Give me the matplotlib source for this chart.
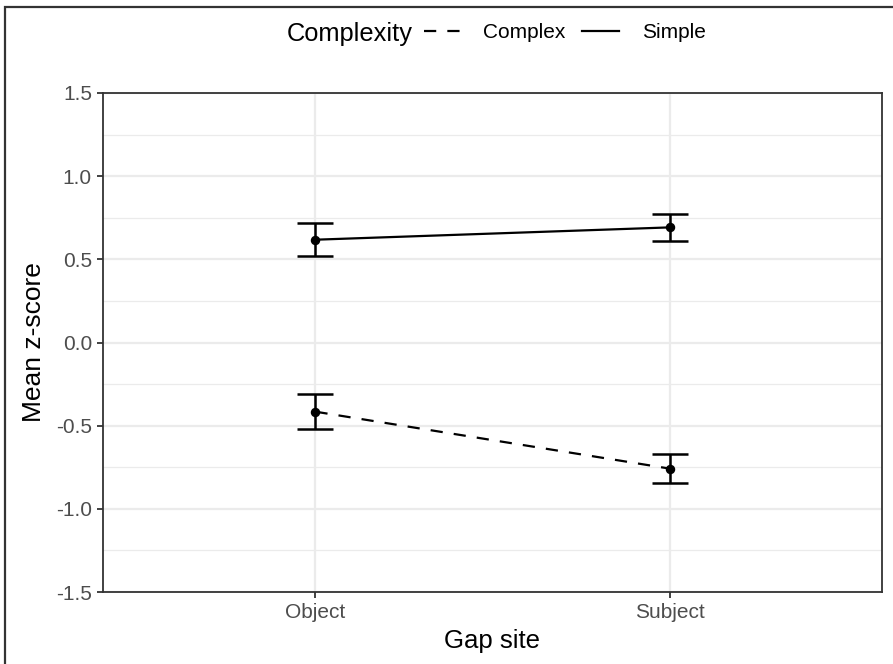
import matplotlib.pyplot as plt
from matplotlib.lines import Line2D
from matplotlib.patches import Rectangle

plt.rcParams['font.family'] = ['Liberation Sans', 'DejaVu Sans']

# Data
gap_sites = ['Object', 'Subject']
complexity = ['Complex', 'Simple']
means = {
    'Complex': [-0.416, -0.758],
    'Simple': [0.618, 0.692],
}
lower = {
    'Complex': [-0.518, -0.846],
    'Simple': [0.518, 0.610],
}
upper = {
    'Complex': [-0.312, -0.672],
    'Simple': [0.718, 0.772],
}
y_ticks = [-1.5, -1.0, -0.5, 0.0, 0.5, 1.0, 1.5]
y_minor = [-1.25, -0.75, -0.25, 0.25, 0.75, 1.25]
line_styles = {'Complex': (0, (5.5, 5)), 'Simple': '-'}


def main():
    fig = plt.figure(figsize=(8.93, 6.64), dpi=100)
    ax = fig.add_axes([103 / 893, 72 / 664, 779 / 893, 499 / 664])

    xs = [1, 2]
    for name in complexity:
        m = means[name]
        err = [[a - b for a, b in zip(m, lower[name])],
               [b - a for a, b in zip(m, upper[name])]]
        ax.errorbar(xs, m, yerr=err, fmt='none', ecolor='black',
                    elinewidth=1.8, capsize=13, capthick=1.8, zorder=3)
        ax.plot(xs, m, color='black', lw=1.6, linestyle=line_styles[name],
                zorder=4)
        ax.plot(xs, m, 'o', color='black', markersize=5.8, zorder=5)

    ax.set_xlim(0.4, 2.6)
    ax.set_ylim(-1.5, 1.5)
    ax.set_xticks(xs)
    ax.set_xticklabels(gap_sites)
    ax.set_yticks(y_ticks)
    ax.set_yticklabels([f'{v:.1f}' for v in y_ticks])
    ax.set_yticks(y_minor, minor=True)

    ax.grid(True, which='major', color='#EBEBEB', lw=1.6)
    ax.grid(True, which='minor', axis='y', color='#EBEBEB', lw=0.9)
    ax.set_axisbelow(True)
    ax.tick_params(which='minor', length=0)
    ax.tick_params(which='major', length=4.5, width=1.3, color='#333333',
                   labelsize=15, labelcolor='#4D4D4D', pad=3.5)
    for sp in ax.spines.values():
        sp.set_color('#333333')
        sp.set_linewidth(1.3)

    ax.set_xlabel('Gap site', fontsize=18.5, labelpad=5)
    ax.set_ylabel('Mean z-score', fontsize=19, labelpad=7)

    # legend on top, ggplot style
    fig.text(287 / 893, 1 - 34 / 664, 'Complexity', fontsize=18.3,
             ha='left', va='center')
    handles = [Line2D([], [], color='black', lw=1.6,
                      linestyle=line_styles[n]) for n in complexity]
    fig.legend(handles, complexity, ncol=2, frameon=False, fontsize=15,
               loc='center left', bbox_to_anchor=(424 / 893, 1 - 33 / 664),
               borderpad=0, borderaxespad=0, handlelength=1.75,
               handletextpad=1.1, columnspacing=0.8)

    # outer frame of the image
    fig.patches.append(Rectangle((5 / 893, -0.1), 1.2, 1.1 - 7 / 664,
                                 transform=fig.transFigure, fill=False,
                                 edgecolor='#333333', lw=1.6))

    fig.savefig('out.png', dpi=100)


if __name__ == "__main__":
    main()
